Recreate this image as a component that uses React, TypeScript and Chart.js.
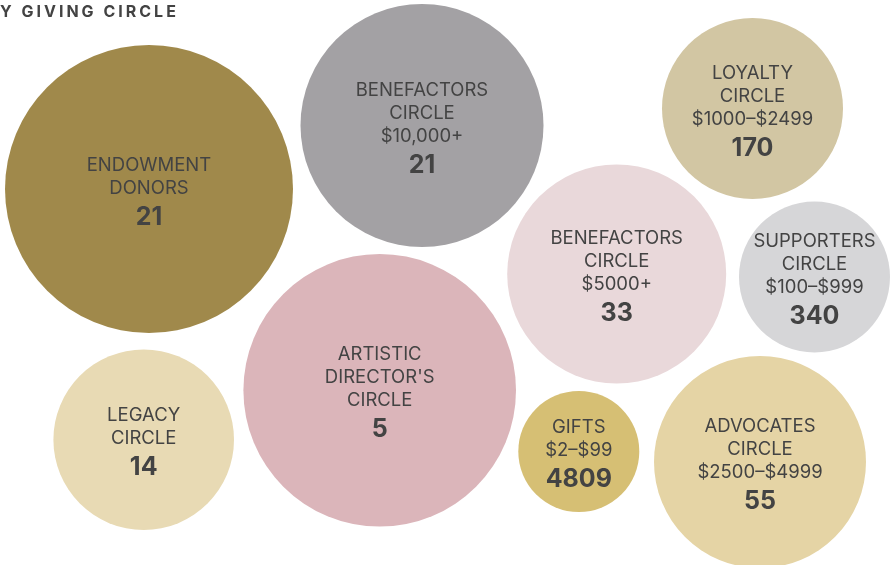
import React, { useEffect, useRef } from "react";
import { Chart, registerables } from "chart.js";

Chart.register(...registerables);

const titleText = "Y GIVING CIRCLE";

const circleNames: string[][] = [
  ["ENDOWMENT", "DONORS"],
  ["BENEFACTORS", "CIRCLE", "$10,000+"],
  ["LOYALTY", "CIRCLE", "$1000–$2499"],
  ["BENEFACTORS", "CIRCLE", "$5000+"],
  ["SUPPORTERS", "CIRCLE", "$100–$999"],
  ["ARTISTIC", "DIRECTOR'S", "CIRCLE"],
  ["LEGACY", "CIRCLE"],
  ["GIFTS", "$2–$99"],
  ["ADVOCATES", "CIRCLE", "$2500–$4999"],
];

const donorCounts: number[] = [21, 21, 170, 33, 340, 5, 14, 4809, 55];

// packed-bubble layout (chart units)
const bubbleX: number[] = [149, 422, 752.5, 616.7, 814.5, 379.7, 143.7, 578.8, 760];
const bubbleY: number[] = [189, 125.5, 108.5, 274, 277, 390.3, 439.7, 451.5, 462];
const bubbleR: number[] = [144, 121.5, 90.5, 109.5, 75.5, 136.3, 90.3, 60.5, 106];

const bubbleColors: string[] = [
  "#A0894B",
  "#A3A1A4",
  "#D2C6A3",
  "#E9D8DA",
  "#D6D6D8",
  "#DBB5BA",
  "#E8DAB4",
  "#D6BF74",
  "#E5D4A5",
];

const FONT = "Inter, 'Noto Sans', sans-serif";
const TEXT_COLOR = "#434343";

const labelPlugin = {
  id: "bubbleLabels",
  afterDatasetsDraw(chart: any) {
    const ctx = chart.ctx;
    const meta = chart.getDatasetMeta(0);
    ctx.save();
    ctx.fillStyle = TEXT_COLOR;
    ctx.textAlign = "center";
    ctx.textBaseline = "middle";
    meta.data.forEach((el: any, i: number) => {
      const lines = circleNames[i];
      const n = lines.length;
      const lh = 23;
      const numGap = 29;
      const y0 = el.y - ((n - 1) * lh + numGap) / 2 + 2;
      ctx.font = `400 18.5px ${FONT}`;
      lines.forEach((t, j) => {
        ctx.fillText(t, el.x, y0 + j * lh);
      });
      ctx.font = `700 25px ${FONT}`;
      ctx.fillText(String(donorCounts[i]), el.x, y0 + (n - 1) * lh + numGap);
    });
    // title
    ctx.textAlign = "left";
    ctx.textBaseline = "alphabetic";
    ctx.font = `700 16px ${FONT}`;
    try {
      (ctx as any).letterSpacing = "3px";
    } catch (e) {}
    ctx.fillText(titleText, 0, 17);
    ctx.restore();
  },
};

export default function App() {
  const ref = useRef<HTMLCanvasElement | null>(null);
  useEffect(() => {
    document.body.style.margin = "0";
    if (!ref.current) return;
    const chart = new Chart(ref.current, {
      type: "bubble",
      data: {
        datasets: [
          {
            label: "Donors",
            data: donorCounts.map((v, i) => ({ x: bubbleX[i], y: bubbleY[i], r: bubbleR[i], v })),
            backgroundColor: bubbleColors,
            borderWidth: 0,
            hoverBorderWidth: 0,
            clip: false as any,
          } as any,
        ],
      },
      options: {
        animation: false,
        responsive: true,
        maintainAspectRatio: false,
        layout: { padding: 0, autoPadding: false } as any,
        events: [],
        scales: {
          x: { type: "linear", min: 0, max: 891, display: false },
          y: { type: "linear", min: 0, max: 565, reverse: true, display: false },
        },
        plugins: {
          legend: { display: false },
          tooltip: { enabled: false },
          title: { display: false },
        },
      },
      plugins: [labelPlugin],
    });
    return () => chart.destroy();
  }, []);
  return (
    <div style={{ position: "absolute", left: 0, top: 0, width: 891, height: 565, background: "#fff" }}>
      <canvas ref={ref} />
    </div>
  );
}
